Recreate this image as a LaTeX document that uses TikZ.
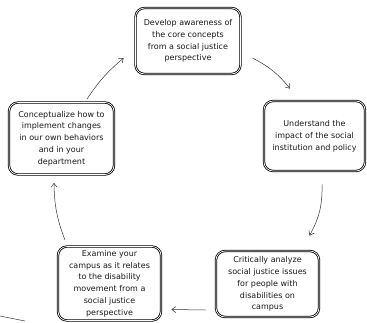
\documentclass[tikz,border=0pt]{standalone}
\usepackage{fontspec}
\setmainfont{DejaVu Sans}
\usepackage{tikz}
\usetikzlibrary{arrows.meta}

\begin{document}
\begin{tikzpicture}[x=1pt,y=1pt,
	etape/.style={draw=black,double=white,line width=0.8pt,double distance=0.7pt,rounded corners=9pt,align=center,font=\fontsize{8}{11.8}\selectfont,text=black!90,inner sep=2pt},
	fleche/.style={-{Straight Barb[length=4pt,width=6pt]},black!80,line width=0.5pt}]
\useasboundingbox (0,0) rectangle (367,-322);
			% Boîtes
\node [etape,minimum width=105pt,minimum height=66pt] (aware) at (188,-41) {Develop awareness of\\the core concepts\\from a social justice\\perspective};
\node [etape,minimum width=101pt,minimum height=70pt] (impact) at (314.5,-136) {Understand the\\impact of the social\\institution and policy};
\node [etape,minimum width=103pt,minimum height=66pt] (analyze) at (267.5,-284) {Critically analyze\\social justice issues\\for people with\\disabilities on\\campus};
\node [etape,minimum width=103pt,minimum height=74pt] (examine) at (109.5,-283.5) {Examine your\\campus as it relates\\to the disability\\movement from a\\social justice\\perspective};
\node [etape,minimum width=105pt,minimum height=72pt] (concept) at (61.5,-138.5) {Conceptualize how to\\implement changes\\in our own behaviors\\and in your\\department};
			% Flèches
\draw [fleche] ([shift={(11.5,-17)}]aware.east) to [bend left=12] ([shift={(-24.5,12)}]impact.north);
\draw [fleche] ([shift={(7.5,-13)}]impact.south) to [bend left=15] ([shift={(42,15)}]analyze.north);
\draw [fleche] ([shift={(-10,-26)}]analyze.west) -- ([shift={(10,-26)}]examine.east);
\draw [fleche] ([shift={(-44.5,6)}]examine.north) to [bend left=10] ([shift={(-7.5,-8)}]concept.south);
\draw [fleche] ([shift={(25.5,3)}]concept.north) to [bend left=8] ([shift={(-11.5,-17)}]aware.west);
\draw [black!80,line width=0.5pt] (0,-316) -- (25,-321);
			\end{tikzpicture}
\end{document}
